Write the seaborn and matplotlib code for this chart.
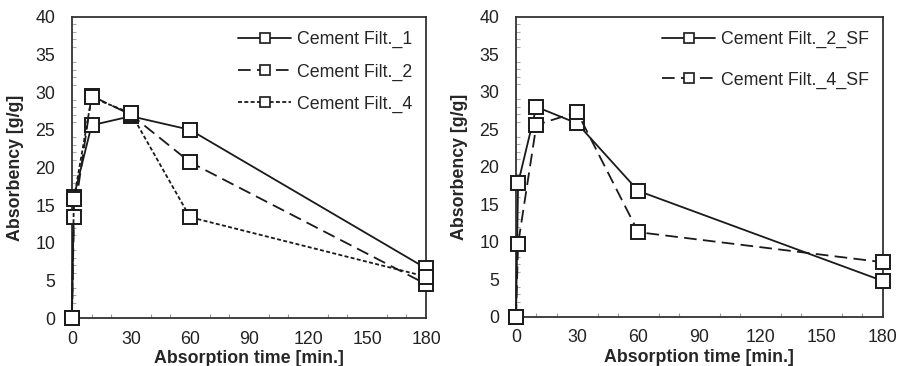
import matplotlib
matplotlib.use("Agg")
import matplotlib.pyplot as plt
import seaborn as sns
import pandas as pd
from matplotlib.ticker import MultipleLocator

sns.set_theme(style="white")
plt.rcParams['font.family'] = ['Liberation Sans', 'DejaVu Sans']

time = [0, 1, 10, 30, 60, 180]
filt_1 = [0, 16.1, 25.6, 26.8, 25.0, 6.6]
filt_2 = [0, 13.4, 29.5, 27.0, 20.7, 4.5]
filt_4 = [0, 15.8, 29.3, 27.2, 13.4, 5.5]
filt_2_sf = [0, 17.8, 28.0, 25.8, 16.8, 4.8]
filt_4_sf = [0, 9.7, 25.6, 27.3, 11.3, 7.3]

left_series = [("Cement Filt._1", filt_1, "-"),
               ("Cement Filt._2", filt_2, (0, (7, 3.5))),
               ("Cement Filt._4", filt_4, (0, (2.2, 1.3)))]
right_series = [("Cement Filt._2_SF", filt_2_sf, "-"),
                ("Cement Filt._4_SF", filt_4_sf, (0, (7, 3.5)))]

fig = plt.figure(figsize=(8.99, 3.66), dpi=100)
ax1 = fig.add_axes([0.080, 0.131, 0.394, 0.823])
ax2 = fig.add_axes([0.574, 0.134, 0.408, 0.820])

FS = 12.8

def draw(ax, series, lspace):
    handles = []
    for name, vals, ls in series:
        df = pd.DataFrame({"t": time, "v": vals})
        sns.lineplot(data=df, x="t", y="v", ax=ax, sort=False, color="#1a1a1a",
                     linewidth=1.3, linestyle=ls, marker="s", markersize=9.5,
                     markerfacecolor="white", markeredgecolor="#1a1a1a",
                     markeredgewidth=1.4, clip_on=False, zorder=3)
        h, = ax.plot([], [], color="#1a1a1a", linewidth=1.3, linestyle=ls,
                     marker="s", markersize=7, markerfacecolor="white",
                     markeredgecolor="#1a1a1a", markeredgewidth=1.2, label=name)
        handles.append(h)
    ax.set_xlim(0, 180)
    ax.set_ylim(0, 40)
    ax.set_xticks([0, 30, 60, 90, 120, 150, 180])
    ax.set_yticks(range(0, 41, 5))
    ax.xaxis.set_minor_locator(MultipleLocator(10))
    ax.yaxis.set_minor_locator(MultipleLocator(1))
    ax.tick_params(axis="x", which="major", direction="in", length=0,
                   labelsize=FS, colors="#222222", pad=9)
    ax.tick_params(axis="y", which="major", direction="in", length=0,
                   labelsize=FS, colors="#222222", pad=12)
    ax.tick_params(axis="x", which="minor", direction="in", length=3,
                   width=0.8, color="#999999", bottom=True)
    ax.tick_params(axis="y", which="minor", direction="in", length=3,
                   width=0.8, color="#aaaaaa", left=True)
    for s in ax.spines.values():
        s.set_color("#333333")
        s.set_linewidth(1.3)
    ax.set_xlabel("Absorption time [min.]", fontsize=FS, fontweight="bold",
                  labelpad=2)
    ax.set_ylabel("Absorbency [g/g]", fontsize=FS, fontweight="bold",
                  labelpad=8)
    ax.legend(handles=handles, loc="upper right", frameon=False, fontsize=FS,
              handlelength=3.0, handletextpad=0.3, labelspacing=lspace,
              borderaxespad=0.4, numpoints=1)

draw(ax1, left_series, 0.85)
draw(ax2, right_series, 1.3)

fig.savefig("out.png", dpi=100)
